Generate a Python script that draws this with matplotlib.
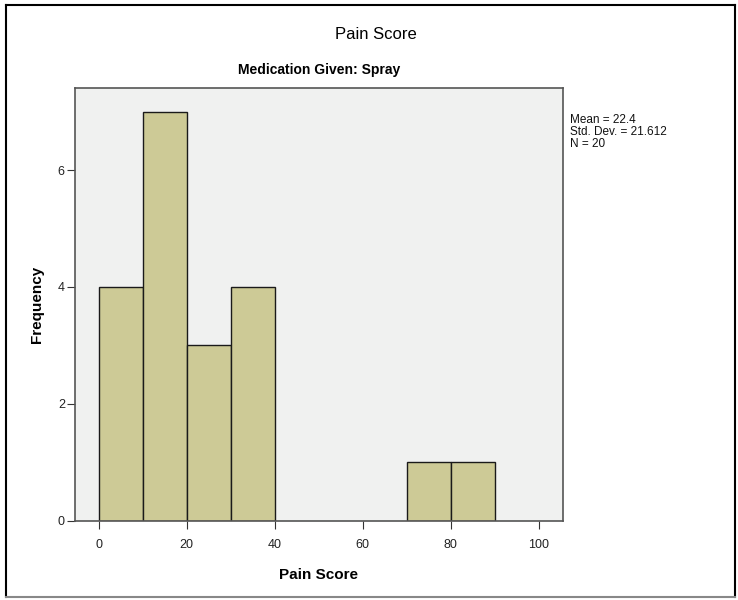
import matplotlib
matplotlib.use("Agg")
import matplotlib.pyplot as plt
from matplotlib.lines import Line2D

plt.rcParams['font.family'] = ['Liberation Sans', 'DejaVu Sans']

# histogram bins and counts
bin_edges = [0, 10, 20, 30, 40, 50, 60, 70, 80, 90]
counts = [4, 7, 3, 4, 0, 0, 0, 1, 1]
stats_lines = ["Mean = 22.4", "Std. Dev. = 21.612", "N = 20"]
x_ticks = [0, 20, 40, 60, 80, 100]
y_ticks = [0, 2, 4, 6]

fig = plt.figure(figsize=(7.38, 6), dpi=100)
ax = fig.add_axes([0.101, 0.132, 0.662, 0.721])
ax.set_facecolor('#F0F1F0')

lefts = bin_edges[:-1]
widths = [b - a for a, b in zip(bin_edges[:-1], bin_edges[1:])]
for l, w, c in zip(lefts, widths, counts):
    if c > 0:
        ax.bar(l, c, width=w, align='edge', color='#CDCA96',
               edgecolor='#1a1a1a', linewidth=1.0)

ax.set_xlim(-5.5, 105.5)
ax.set_ylim(0, 7.4)
ax.set_xticks(x_ticks)
ax.set_yticks(y_ticks)
ax.tick_params(labelsize=9, length=6, color='#333333', labelcolor='#222222')
ax.tick_params(axis='x', pad=7)
ax.tick_params(axis='y', pad=1)
for s in ax.spines.values():
    s.set_color('#555555')
    s.set_linewidth(1.2)

ax.set_xlabel("Pain Score", fontsize=11, fontweight='bold', labelpad=12)
ax.set_ylabel("Frequency", fontsize=11, fontweight='bold', labelpad=10)
fig.text(0.5095, 0.942, "Pain Score", ha='center', va='center', fontsize=12,
         fontweight='medium')
ax.set_title("Medication Given: Spray", fontsize=10, fontweight='bold', pad=10)

fig.text(0.772, 0.78, "\n".join(stats_lines), ha='left', va='center',
         fontsize=8.5, linespacing=0.95, color='#111111')

# outer frame
fig.add_artist(Line2D([6/738, 6/738], [3/600, 595/600], color='black', lw=1.5))
fig.add_artist(Line2D([6/738, 735/738], [595/600, 595/600], color='black', lw=1.5))
fig.add_artist(Line2D([735/738, 735/738], [3/600, 595/600], color='black', lw=1.5))
fig.add_artist(Line2D([6/738, 735/738], [3/600, 3/600], color='#888888', lw=1.5))

fig.savefig("out.png", dpi=100)
